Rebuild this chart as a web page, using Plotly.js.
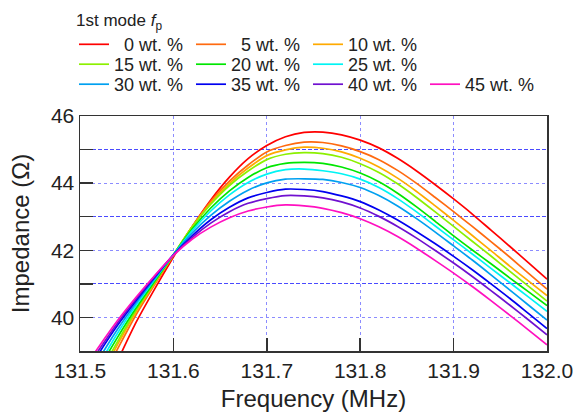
<!DOCTYPE html>
<html>
<head>
<meta charset="utf-8">
<script src="https://cdn.plot.ly/plotly-3.0.1.min.js"></script>
<style>html,body{margin:0;padding:0;background:#fff;}#chart{width:577px;height:412px;}</style>
</head>
<body>
<div id="chart"></div>
<script>
const freq = [131.50, 131.52, 131.54, 131.56, 131.58, 131.60, 131.62, 131.64, 131.66, 131.68, 131.70, 131.72, 131.74, 131.76, 131.78, 131.80, 131.82, 131.84, 131.86, 131.88, 131.90, 131.92, 131.94, 131.96, 131.98, 132.00];

const labels = ["0 wt. %", "5 wt. %", "10 wt. %", "15 wt. %", "20 wt. %", "25 wt. %", "30 wt. %", "35 wt. %", "40 wt. %", "45 wt. %"];
const colors = ["#ff0000", "#ff6a10", "#ffaa00", "#8cf000", "#00e600", "#00f4f4", "#00a0f0", "#0000f0", "#7010d0", "#ff10c0"];

const z0  = [36.5, 37.6, 38.7, 39.85, 40.85, 41.8, 42.7, 43.5, 44.18, 44.73, 45.12, 45.38, 45.51, 45.52, 45.44, 45.28, 45.05, 44.74, 44.37, 43.96, 43.53, 43.08, 42.6, 42.12, 41.63, 41.14];
const z5  = [36.9, 38.0, 39.05, 40.08, 40.98, 41.84, 42.7, 43.46, 44.06, 44.54, 44.93, 45.12, 45.22, 45.21, 45.11, 44.94, 44.70, 44.38, 44.0, 43.58, 43.15, 42.71, 42.26, 41.80, 41.32, 40.84];
const z10 = [37.1, 38.15, 39.18, 40.17, 41.02, 41.86, 42.7, 43.41, 43.99, 44.45, 44.82, 44.99, 45.07, 45.04, 44.93, 44.74, 44.48, 44.15, 43.76, 43.33, 42.89, 42.44, 41.99, 41.53, 41.09, 40.65];
const z15 = [37.25, 38.28, 39.27, 40.22, 41.05, 41.87, 42.69, 43.37, 43.93, 44.36, 44.70, 44.86, 44.91, 44.88, 44.77, 44.58, 44.32, 43.98, 43.58, 43.15, 42.71, 42.27, 41.83, 41.38, 40.93, 40.49];
const z20 = [37.45, 38.45, 39.4, 40.28, 41.08, 41.87, 42.63, 43.26, 43.77, 44.17, 44.46, 44.59, 44.62, 44.59, 44.48, 44.30, 44.04, 43.70, 43.30, 42.87, 42.43, 42.01, 41.6, 41.18, 40.77, 40.35];
const z25 = [37.6, 38.58, 39.52, 40.36, 41.13, 41.87, 42.58, 43.17, 43.65, 44.02, 44.27, 44.40, 44.42, 44.37, 44.28, 44.12, 43.87, 43.54, 43.15, 42.73, 42.31, 41.89, 41.46, 41.04, 40.61, 40.18];
const z30 = [37.8, 38.75, 39.64, 40.43, 41.16, 41.87, 42.51, 43.04, 43.46, 43.79, 44.01, 44.12, 44.13, 44.11, 44.02, 43.87, 43.63, 43.32, 42.95, 42.55, 42.13, 41.71, 41.27, 40.82, 40.37, 39.92];
const z35 = [38.0, 38.92, 39.76, 40.5, 41.2, 41.86, 42.43, 42.91, 43.28, 43.56, 43.72, 43.82, 43.81, 43.75, 43.62, 43.45, 43.2, 42.9, 42.56, 42.2, 41.82, 41.42, 41.0, 40.57, 40.12, 39.67];
const z40 = [38.15, 39.02, 39.83, 40.55, 41.23, 41.86, 42.38, 42.81, 43.15, 43.40, 43.54, 43.63, 43.62, 43.56, 43.44, 43.26, 43.01, 42.71, 42.37, 42.0, 41.62, 41.22, 40.8, 40.37, 39.93, 39.48];
const z45 = [38.3, 39.12, 39.9, 40.6, 41.25, 41.85, 42.33, 42.69, 42.97, 43.17, 43.29, 43.35, 43.32, 43.25, 43.12, 42.94, 42.7, 42.41, 42.07, 41.7, 41.32, 40.92, 40.5, 40.07, 39.63, 39.18];

const series = [z0, z5, z10, z15, z20, z25, z30, z35, z40, z45];
const legendOf = ["legend", "legend", "legend", "legend2", "legend2", "legend2", "legend3", "legend3", "legend3", "legend3"];
const NB = "\u00a0";
const padOf = [NB + NB, NB + NB, "", "", "", "", "", "", "", ""];

const traces = series.map((ys, i) => ({
  x: freq, y: ys, type: "scatter", mode: "lines",
  name: padOf[i] + labels[i],
  legend: legendOf[i],
  line: {color: colors[i], width: 1.7, shape: "spline", smoothing: 0.7}
}));

const fontFam = "Liberation Sans, Arial, sans-serif";
const legendBase = {
  orientation: "h", xref: "container", yref: "container",
  xanchor: "left", yanchor: "top",
  font: {family: fontFam, size: 18, color: "#222"},
  bgcolor: "rgba(0,0,0,0)", borderwidth: 0,
  entrywidth: 72, entrywidthmode: "pixels",
  tracegroupgap: 0, itemwidth: 30
};

const layout = {
  width: 577, height: 412,
  margin: {l: 80, r: 30, t: 116, b: 61},
  paper_bgcolor: "#fff", plot_bgcolor: "#fff",
  font: {family: fontFam, color: "#222"},
  showlegend: true,
  legend: Object.assign({}, legendBase, {
    x: 74 / 577, y: 1 - 4 / 412,
    title: {text: "1st mode <i>f</i><sub>p</sub>", side: "top", font: {family: fontFam, size: 17, color: "#222"}}
  }),
  legend2: Object.assign({}, legendBase, {x: 74 / 577, y: 1 - 46 / 412}),
  legend3: Object.assign({}, legendBase, {x: 74 / 577, y: 1 - 66 / 412}),
  xaxis: {
    range: [131.5, 132.0], tick0: 131.5, dtick: 0.1, tickformat: ".1f",
    ticks: "inside", ticklen: 13, tickwidth: 1.5, tickcolor: "#333",
    showline: true, linecolor: "#333", linewidth: 1.5, mirror: true,
    showgrid: true, gridcolor: "#8c8cff", griddash: "dot", gridwidth: 1,
    zeroline: false,
    tickfont: {family: fontFam, size: 21, color: "#222"},
    title: {text: "Frequency (MHz)", font: {family: fontFam, size: 24, color: "#222"}, standoff: 11},
    automargin: false
  },
  yaxis: {
    range: [39, 46], tick0: 40, dtick: 2,
    ticks: "inside", ticklen: 13, tickwidth: 1.5, tickcolor: "#333",
    showline: true, linecolor: "#333", linewidth: 1.5, mirror: true,
    showgrid: true, gridcolor: "#8c8cff", griddash: "dot", gridwidth: 1,
    minor: {tick0: 39, dtick: 1, ticks: "inside", ticklen: 13, tickwidth: 1.5, tickcolor: "#333",
            showgrid: true, gridcolor: "#4a4aff", griddash: "4px,2px", gridwidth: 1},
    zeroline: false,
    tickfont: {family: fontFam, size: 21, color: "#222"},
    title: {text: "Impedance (\u03a9)", font: {family: fontFam, size: 24, color: "#222"}, standoff: 14},
    automargin: false
  }
};

Plotly.newPlot("chart", traces, layout, {staticPlot: true, displayModeBar: false});
</script>
</body>
</html>
